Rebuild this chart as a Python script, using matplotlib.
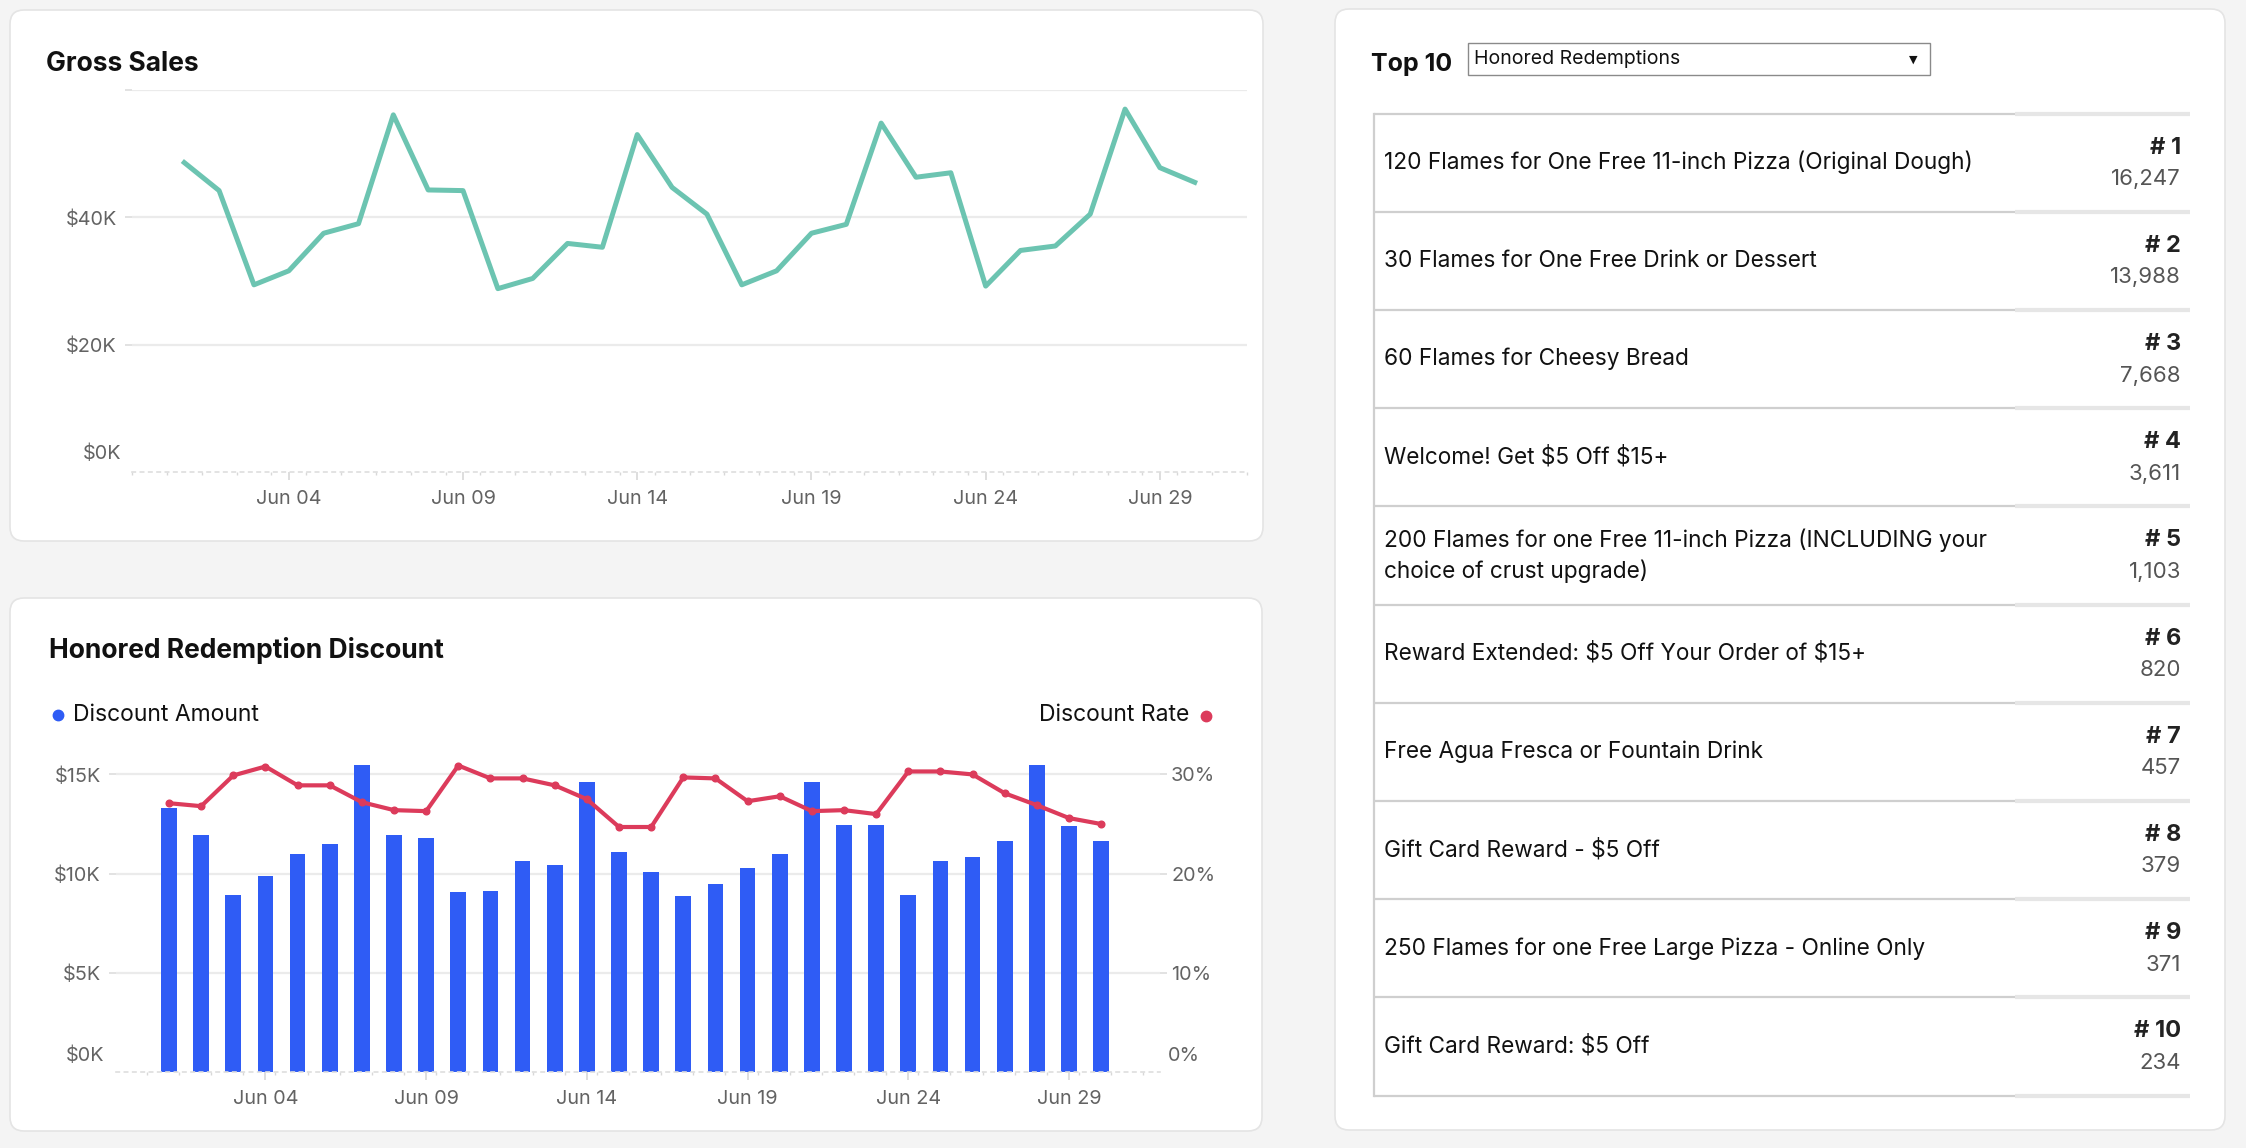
import matplotlib
matplotlib.use('Agg')
import matplotlib.pyplot as plt
from matplotlib.patches import FancyBboxPatch, Rectangle
import numpy as np

plt.rcParams['font.family'] = ['Inter', 'DejaVu Sans']

# ---------------- data ----------------
days = list(range(1, 31))
gross_sales = [48600, 44200, 29400, 31600, 37500, 39000, 56100, 44300, 44200, 28800,
               30400, 35900, 35300, 53000, 44700, 40500, 29400, 31600, 37500, 38900,
               54800, 46300, 47000, 29200, 34800, 35500, 40500, 57000, 47800, 45500]
discount_amount = [13300, 11950, 8900, 9900, 10970, 11500, 15470, 11950, 11800, 9050,
                   9140, 10660, 10430, 14600, 11100, 10100, 8870, 9500, 10300, 10970,
                   14640, 12460, 12460, 8920, 10660, 10840, 11630, 15470, 12420, 11630]
discount_rate = [0.271, 0.268, 0.299, 0.308, 0.289, 0.289, 0.272, 0.264, 0.263, 0.309,
                 0.296, 0.296, 0.289, 0.275, 0.247, 0.247, 0.297, 0.296, 0.273, 0.278,
                 0.263, 0.264, 0.260, 0.303, 0.303, 0.300, 0.281, 0.269, 0.256, 0.250]
date_ticks = [4, 9, 14, 19, 24, 29]
date_labels = ['Jun 04', 'Jun 09', 'Jun 14', 'Jun 19', 'Jun 24', 'Jun 29']
sales_ticks = [20000, 40000, 60000]
sales_labels = ['$20K', '$40K', '']
amount_ticks = [5000, 10000, 15000]
amount_labels = ['$5K', '$10K', '$15K']
rate_ticks = [0.1, 0.2, 0.3]
rate_labels = ['10%', '20%', '30%']
top_names = ['120 Flames for One Free 11-inch Pizza (Original Dough)',
             '30 Flames for One Free Drink or Dessert',
             '60 Flames for Cheesy Bread',
             'Welcome! Get $5 Off $15+',
             '200 Flames for one Free 11-inch Pizza (INCLUDING your\nchoice of crust upgrade)',
             'Reward Extended: $5 Off Your Order of $15+',
             'Free Agua Fresca or Fountain Drink',
             'Gift Card Reward - $5 Off',
             '250 Flames for one Free Large Pizza - Online Only',
             'Gift Card Reward: $5 Off']
top_counts = [16247, 13988, 7668, 3611, 1103, 820, 457, 379, 371, 234]

# ---------------- style ----------------
TEAL = '#6CC4B1'
BLUE = '#2F5CF5'
RED = '#DC3B5B'
GRID = '#ebebeb'
TICKC = '#636363'
TICK_FS = 14.3

W, H = 2246, 1148
fig = plt.figure(figsize=(W / 100, H / 100), dpi=100)
fig.patch.set_facecolor('#f4f4f4')

bg = fig.add_axes([0, 0, 1, 1])
bg.set_xlim(0, W)
bg.set_ylim(H, 0)
bg.axis('off')


def card(x0, y0, x1, y1):
    bg.add_patch(FancyBboxPatch((x0, y0), x1 - x0, y1 - y0,
                                boxstyle='round,pad=0,rounding_size=14',
                                fc='white', ec='#e4e4e4', lw=1.2))


def px_axes(l, t, r, b):
    a = fig.add_axes([l / W, 1 - b / H, (r - l) / W, (b - t) / H])
    a.set_facecolor('none')
    return a


def style_axis(a):
    for s in ['left', 'right', 'top']:
        a.spines[s].set_visible(False)
    a.spines['bottom'].set_color('#dedede')
    a.spines['bottom'].set_linestyle((0, (2, 3)))
    a.spines['bottom'].set_linewidth(1.2)
    a.yaxis.grid(True, color=GRID, lw=1.6)
    a.set_axisbelow(True)
    a.tick_params(axis='y', length=5, width=1.2, color='#dddddd',
                  labelcolor=TICKC, labelsize=TICK_FS, pad=6)
    a.tick_params(axis='x', which='major', length=6, width=1.2, color='#d8d8d8',
                  labelcolor=TICKC, labelsize=TICK_FS, pad=7)
    a.tick_params(axis='x', which='minor', length=2.5, width=1.0, color='#d8d8d8')


card(10, 10, 1263, 541)
card(10, 598, 1262, 1131)
card(1335, 9, 2225, 1130)

# ---------------- Gross Sales ----------------
bg.text(46, 64, 'Gross Sales', fontsize=19, fontweight='bold', color='#111111',
        ha='left', va='center')
ax1 = px_axes(132, 90, 1247, 472)
ax1.plot(days, gross_sales, color=TEAL, lw=3.6, solid_joinstyle='round')
ax1.set_xlim(-0.5, 31.5)
ax1.set_ylim(0, 60000)
ax1.set_yticks(sales_ticks)
ax1.set_yticklabels(sales_labels)
ax1.set_xticks(date_ticks)
ax1.set_xticklabels(date_labels)
ax1.set_xticks(np.arange(-0.5, 31.6, 1.0), minor=True)
style_axis(ax1)
ax1.annotate('$0K', xy=(0, 0), xycoords=('axes fraction', 'data'), xytext=(-11, 18),
             textcoords='offset pixels', ha='right', va='center', color=TICKC,
             fontsize=TICK_FS)

# ---------------- Honored Redemption Discount ----------------
bg.text(49, 650, 'Honored Redemption Discount', fontsize=19, fontweight='bold',
        color='#111111', ha='left', va='center')
bg.plot([58], [715], 'o', color=BLUE, ms=7.5)
bg.text(73, 715, 'Discount Amount', fontsize=16.5, color='#111111', ha='left', va='center')
bg.plot([1206], [716], 'o', color=RED, ms=7.5)
bg.text(1189, 715, 'Discount Rate', fontsize=16.5, color='#111111', ha='right', va='center')

ax2 = px_axes(116, 754.6, 1160, 1072)
ax2.bar(days, discount_amount, width=0.49, color=BLUE, zorder=2)
ax2.set_xlim(-0.65, 31.83)
ax2.set_ylim(0, 16000)
ax2.set_yticks(amount_ticks)
ax2.set_yticklabels(amount_labels)
ax2.set_xticks(date_ticks)
ax2.set_xticklabels(date_labels)
ax2.set_xticks(np.arange(0.31, 32, 1.0), minor=True)
style_axis(ax2)
ax2.annotate('$0K', xy=(0, 0), xycoords=('axes fraction', 'data'), xytext=(-12, 16),
             textcoords='offset pixels', ha='right', va='center', color=TICKC,
             fontsize=TICK_FS)

ax3 = ax2.twinx()
ax3.set_facecolor('none')
ax3.plot(days, discount_rate, color=RED, lw=3.0, marker='o', ms=4.8, zorder=3)
ax3.set_ylim(0, 0.32)
ax3.set_yticks(rate_ticks)
ax3.set_yticklabels(rate_labels)
for s in ['left', 'right', 'top', 'bottom']:
    ax3.spines[s].set_visible(False)
ax3.tick_params(axis='y', length=5, width=1.2, color='#dddddd', labelcolor=TICKC,
                labelsize=TICK_FS, pad=3)
ax3.annotate('0%', xy=(1, 0), xycoords=('axes fraction', 'data'), xytext=(8, 16),
             textcoords='offset pixels', ha='left', va='center', color=TICKC,
             fontsize=TICK_FS)

# ---------------- Top 10 table ----------------
bg.text(1371, 64, 'Top 10', fontsize=18, fontweight='bold', color='#111111',
        ha='left', va='center')
bg.add_patch(Rectangle((1468, 43), 462, 32, fc='white', ec='#8a8a8a', lw=1.0))
bg.text(1474, 59, 'Honored Redemptions', fontsize=14, color='#111111', ha='left',
        va='center')
bg.text(1913, 60, '▼', fontsize=8, color='#111111', ha='center', va='center',
        family='DejaVu Sans')

top0 = 113.6
rowh = 98.2
n = len(top_names)
for i in range(n + 1):
    y = top0 + i * rowh
    bg.plot([1374, 2015], [y, y], color='#cfcfcf', lw=1.6, solid_capstyle='butt')
    bg.plot([2015, 2190], [y, y], color='#e6e6e6', lw=3.0, solid_capstyle='butt')
bg.plot([1374, 1374], [top0, top0 + n * rowh], color='#cfcfcf', lw=1.6)
for i, (name, cnt) in enumerate(zip(top_names, top_counts)):
    yt = top0 + i * rowh
    bg.text(1384, yt + rowh / 2, name, fontsize=16.3, color='#111111', ha='left',
            va='center', linespacing=1.4, parse_math=False)
    bg.text(2181, yt + 34, f'# {i + 1}', fontsize=17, fontweight='bold', color='#222222',
            ha='right', va='center', parse_math=False)
    bg.text(2181, yt + 65.5, f'{cnt:,}', fontsize=16, color='#555555', ha='right',
            va='center')

fig.savefig('out.png', dpi=100, facecolor=fig.get_facecolor())
